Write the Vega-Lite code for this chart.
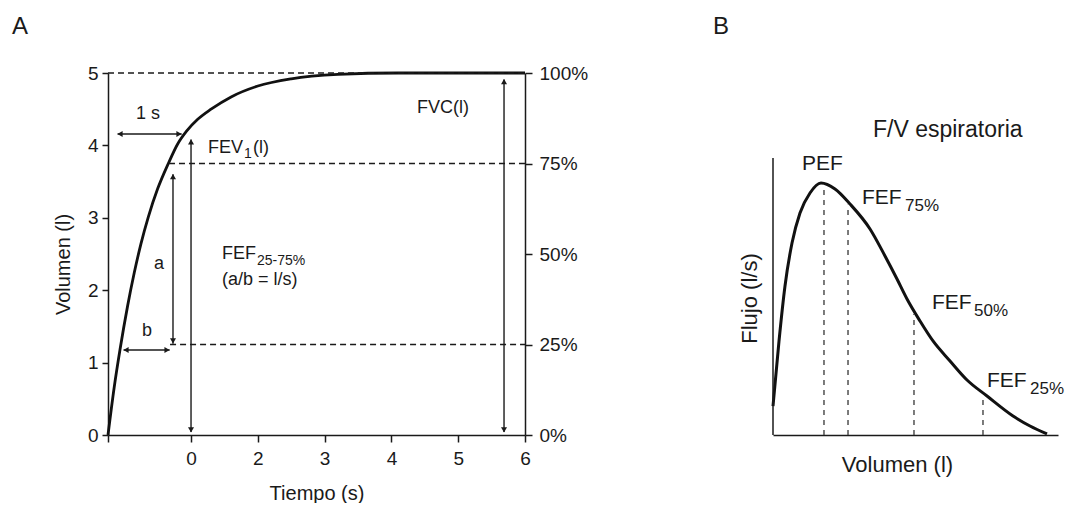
{
  "$schema": "https://vega.github.io/schema/vega-lite/v6.json",
  "background": "white",
  "padding": {"left": 12, "top": 14, "right": 0, "bottom": 0},
  "spacing": 248,
  "bounds": "flush",
  "config": {
    "view": {"stroke": null},
    "font": "Liberation Sans",
    "axis": {
      "grid": false,
      "domainColor": "#1a1a1a",
      "tickColor": "#1a1a1a",
      "labelColor": "#1a1a1a",
      "titleColor": "#1a1a1a",
      "labelFont": "Liberation Sans",
      "titleFont": "Liberation Sans",
      "titleFontWeight": "normal",
      "labelFontSize": 19,
      "titleFontSize": 20,
      "domainWidth": 1.5,
      "tickWidth": 1.5,
      "labelFlush": false,
      "labelOverlap": false
    },
    "text": {"font": "Liberation Sans", "color": "#1a1a1a"}
  },
  "datasets": {
    "volCurve": [
      {"x": -1.243, "y": 0},
      {"x": -1.15, "y": 0.66},
      {"x": -1.063, "y": 1.18},
      {"x": -0.95, "y": 1.78},
      {"x": -0.85, "y": 2.24},
      {"x": -0.75, "y": 2.64},
      {"x": -0.64, "y": 3.01},
      {"x": -0.5, "y": 3.4},
      {"x": -0.34, "y": 3.75},
      {"x": -0.2, "y": 4.02},
      {"x": -0.064, "y": 4.2},
      {"x": 0.1, "y": 4.36},
      {"x": 0.3, "y": 4.5},
      {"x": 0.6, "y": 4.67},
      {"x": 1.0, "y": 4.82},
      {"x": 1.5, "y": 4.92},
      {"x": 2.2, "y": 4.98},
      {"x": 3.1, "y": 5.0},
      {"x": 5.0, "y": 5.0}
    ],
    "volDashed": [
      {"x": -1.243, "x2": 5, "y": 5, "y2": 5},
      {"x": -0.33, "x2": 5, "y": 3.75, "y2": 3.75},
      {"x": -0.314, "x2": 5, "y": 1.25, "y2": 1.25}
    ],
    "volArrows": [
      {"x": -1.1, "x2": -0.14, "y": 4.157, "y2": 4.157},
      {"x": 0, "x2": 0, "y": 0.04, "y2": 4.08},
      {"x": -0.27, "x2": -0.27, "y": 1.26, "y2": 3.6},
      {"x": -1.01, "x2": -0.32, "y": 1.174, "y2": 1.174},
      {"x": 4.686, "x2": 4.686, "y": 0.04, "y2": 4.91}
    ],
    "volHeads": [
      {"x": -1.063, "y": 4.157, "dir": "left"},
      {"x": -0.18, "y": 4.157, "dir": "right"},
      {"x": 0, "y": 4.05, "dir": "up"},
      {"x": 0, "y": 0.07, "dir": "down"},
      {"x": -0.27, "y": 3.57, "dir": "up"},
      {"x": -0.27, "y": 1.3, "dir": "down"},
      {"x": -0.973, "y": 1.174, "dir": "left"},
      {"x": -0.359, "y": 1.174, "dir": "right"},
      {"x": 4.686, "y": 4.88, "dir": "up"},
      {"x": 4.686, "y": 0.07, "dir": "down"}
    ],
    "volText": [
      {"x": -0.823, "y": 4.365, "label": "1 s"},
      {"x": 0.254, "y": 3.895, "label": "FEV"},
      {"x": 0.928, "y": 3.895, "label": "(l)"},
      {"x": 0.464, "y": 2.431, "label": "FEF"},
      {"x": 0.464, "y": 2.072, "label": "(a/b = l/s)"},
      {"x": 3.383, "y": 4.448, "label": "FVC(l)"},
      {"x": -0.554, "y": 2.293, "label": "a"},
      {"x": -0.734, "y": 1.367, "label": "b"}
    ],
    "volSub": [
      {"x": 0.793, "y": 3.826, "label": "1"},
      {"x": 0.988, "y": 2.348, "label": "25-75%"}
    ],
    "volLetter": [{"x": -2.68, "y": 5.539, "label": "A"}],
    "pct": [{"y": 0}, {"y": 5}],
    "flowCurve": [
      {"x": 0, "y": 0.8},
      {"x": 0.211, "y": 2.597},
      {"x": 0.421, "y": 4.116},
      {"x": 0.667, "y": 5.304},
      {"x": 0.947, "y": 6.133},
      {"x": 1.298, "y": 6.685},
      {"x": 1.684, "y": 6.961},
      {"x": 2.175, "y": 6.796},
      {"x": 2.702, "y": 6.381},
      {"x": 3.404, "y": 5.691},
      {"x": 3.93, "y": 4.945},
      {"x": 4.351, "y": 4.309},
      {"x": 4.702, "y": 3.757},
      {"x": 5.158, "y": 3.149},
      {"x": 5.614, "y": 2.597},
      {"x": 6.211, "y": 2.044},
      {"x": 6.807, "y": 1.519},
      {"x": 7.509, "y": 1.077},
      {"x": 8.421, "y": 0.525},
      {"x": 9.018, "y": 0.249},
      {"x": 9.614, "y": 0.028}
    ],
    "flowAxis": [{"x": 0, "y": 0, "y2": 7.65}],
    "flowDashed": [
      {"x": 1.789, "y": 0, "y2": 6.85},
      {"x": 2.632, "y": 0, "y2": 6.36},
      {"x": 4.947, "y": 0, "y2": 3.34},
      {"x": 7.368, "y": 0, "y2": 1.05}
    ],
    "flowText": [
      {"x": 1.018, "y": 7.32, "label": "PEF"},
      {"x": 3.123, "y": 6.381, "label": "FEF"},
      {"x": 5.579, "y": 3.481, "label": "FEF"},
      {"x": 7.509, "y": 1.326, "label": "FEF"}
    ],
    "flowSub": [
      {"x": 4.632, "y": 6.188, "label": "75%"},
      {"x": 7.053, "y": 3.287, "label": "50%"},
      {"x": 9.018, "y": 1.133, "label": "25%"}
    ],
    "flowTitle": [{"x": 3.509, "y": 8.232, "label": "F/V espiratoria"}],
    "flowLetter": [{"x": -2.105, "y": 11.077, "label": "B"}]
  },
  "hconcat": [
    {
      "width": 417,
      "height": 362,
      "resolve": {"scale": {"y": "independent"}},
      "layer": [
        {
          "layer": [
            {
              "data": {"name": "volCurve"},
              "mark": {"type": "line", "color": "#111", "strokeWidth": 2.8, "interpolate": "monotone"},
              "encoding": {
                "x": {"field": "x", "type": "quantitative",
                  "scale": {"domain": [-1.243, 5], "nice": false, "zero": false},
                  "axis": {"values": [-1.243, 0, 1, 2, 3, 4, 5],
                    "labelExpr": "datum.value < -1 ? '' : datum.value == 0 ? '0' : format(datum.value + 1, 'd')",
                    "title": "Tiempo (s)", "tickSize": 7, "labelPadding": 7, "titlePadding": 15}},
                "y": {"field": "y", "type": "quantitative",
                  "scale": {"domain": [0, 5], "nice": false, "zero": false},
                  "axis": {"values": [0, 1, 2, 3, 4, 5], "format": "d", "title": "Volumen (l)", "tickSize": 6,
                    "labelPadding": 4, "titlePadding": 14, "titleY": 191}}
              }
            },
            {
              "data": {"name": "volDashed"},
              "mark": {"type": "rule", "color": "#1a1a1a", "strokeWidth": 1.4, "strokeDash": [6, 4]},
              "encoding": {
                "x": {"field": "x", "type": "quantitative", "scale": {"domain": [-1.243, 5], "nice": false, "zero": false}},
                "x2": {"field": "x2"},
                "y": {"field": "y", "type": "quantitative", "scale": {"domain": [0, 5], "nice": false, "zero": false}},
                "y2": {"field": "y2"}
              }
            },
            {
              "data": {"name": "volArrows"},
              "mark": {"type": "rule", "color": "#1a1a1a", "strokeWidth": 1.4},
              "encoding": {
                "x": {"field": "x", "type": "quantitative", "scale": {"domain": [-1.243, 5], "nice": false, "zero": false}},
                "x2": {"field": "x2"},
                "y": {"field": "y", "type": "quantitative", "scale": {"domain": [0, 5], "nice": false, "zero": false}},
                "y2": {"field": "y2"}
              }
            },
            {
              "data": {"name": "volHeads"},
              "mark": {"type": "point", "filled": true, "color": "#1a1a1a", "size": 36, "opacity": 1},
              "encoding": {
                "x": {"field": "x", "type": "quantitative", "scale": {"domain": [-1.243, 5], "nice": false, "zero": false}},
                "y": {"field": "y", "type": "quantitative", "scale": {"domain": [0, 5], "nice": false, "zero": false}},
                "shape": {"field": "dir", "type": "nominal", "legend": null,
                  "scale": {"domain": ["up", "down", "left", "right"], "range": ["triangle-up", "triangle-down", "triangle-left", "triangle-right"]}}
              }
            },
            {
              "data": {"name": "volText"},
              "mark": {"type": "text", "fontSize": 18, "align": "left", "baseline": "alphabetic"},
              "encoding": {
                "x": {"field": "x", "type": "quantitative", "scale": {"domain": [-1.243, 5], "nice": false, "zero": false}},
                "y": {"field": "y", "type": "quantitative", "scale": {"domain": [0, 5], "nice": false, "zero": false}},
                "text": {"field": "label"}
              }
            },
            {
              "data": {"name": "volSub"},
              "mark": {"type": "text", "fontSize": 14, "align": "left", "baseline": "alphabetic"},
              "encoding": {
                "x": {"field": "x", "type": "quantitative", "scale": {"domain": [-1.243, 5], "nice": false, "zero": false}},
                "y": {"field": "y", "type": "quantitative", "scale": {"domain": [0, 5], "nice": false, "zero": false}},
                "text": {"field": "label"}
              }
            },
            {
              "data": {"name": "volLetter"},
              "mark": {"type": "text", "fontSize": 24, "align": "left", "baseline": "alphabetic"},
              "encoding": {
                "x": {"field": "x", "type": "quantitative", "scale": {"domain": [-1.243, 5], "nice": false, "zero": false}},
                "y": {"field": "y", "type": "quantitative", "scale": {"domain": [0, 5], "nice": false, "zero": false}},
                "text": {"field": "label"}
              }
            }
          ]
        },
        {
          "data": {"name": "pct"},
          "mark": {"type": "point", "opacity": 0},
          "encoding": {
            "x": {"datum": 5, "type": "quantitative", "scale": {"domain": [-1.243, 5], "nice": false, "zero": false}},
            "y": {"field": "y", "type": "quantitative",
              "scale": {"domain": [0, 5], "nice": false, "zero": false},
              "axis": {"orient": "right", "values": [0, 1.25, 2.5, 3.75, 5],
                "labelExpr": "format(datum.value * 20, 'd') + '%'", "title": null,
                "tickSize": 7, "labelPadding": 7}}
          }
        }
      ]
    },
    {
      "width": 285,
      "height": 362,
      "layer": [
        {
          "data": {"name": "flowCurve"},
          "mark": {"type": "line", "color": "#111", "strokeWidth": 3, "interpolate": "monotone"},
          "encoding": {
            "x": {"field": "x", "type": "quantitative",
              "scale": {"domain": [0, 10], "nice": false, "zero": false},
              "axis": {"title": "Volumen (l)", "labels": false, "ticks": false, "domain": true,
                "titleFontSize": 22, "titlePadding": 19, "titleX": 124}},
            "y": {"field": "y", "type": "quantitative",
              "scale": {"domain": [0, 10], "nice": false, "zero": false},
              "axis": {"title": "Flujo (l/s)", "labels": false, "ticks": false, "domain": false,
                "titleFontSize": 22, "titlePadding": 12, "titleY": 225}}
          }
        },
        {
          "data": {"name": "flowAxis"},
          "mark": {"type": "rule", "color": "#1a1a1a", "strokeWidth": 1.5},
          "encoding": {
            "x": {"field": "x", "type": "quantitative", "scale": {"domain": [0, 10], "nice": false, "zero": false}},
            "y": {"field": "y", "type": "quantitative", "scale": {"domain": [0, 10], "nice": false, "zero": false}},
            "y2": {"field": "y2"}
          }
        },
        {
          "data": {"name": "flowDashed"},
          "mark": {"type": "rule", "color": "#444", "strokeWidth": 1.4, "strokeDash": [5, 5]},
          "encoding": {
            "x": {"field": "x", "type": "quantitative", "scale": {"domain": [0, 10], "nice": false, "zero": false}},
            "y": {"field": "y", "type": "quantitative", "scale": {"domain": [0, 10], "nice": false, "zero": false}},
            "y2": {"field": "y2"}
          }
        },
        {
          "data": {"name": "flowText"},
          "mark": {"type": "text", "fontSize": 21, "align": "left", "baseline": "alphabetic"},
          "encoding": {
            "x": {"field": "x", "type": "quantitative", "scale": {"domain": [0, 10], "nice": false, "zero": false}},
            "y": {"field": "y", "type": "quantitative", "scale": {"domain": [0, 10], "nice": false, "zero": false}},
            "text": {"field": "label"}
          }
        },
        {
          "data": {"name": "flowSub"},
          "mark": {"type": "text", "fontSize": 17, "align": "left", "baseline": "alphabetic"},
          "encoding": {
            "x": {"field": "x", "type": "quantitative", "scale": {"domain": [0, 10], "nice": false, "zero": false}},
            "y": {"field": "y", "type": "quantitative", "scale": {"domain": [0, 10], "nice": false, "zero": false}},
            "text": {"field": "label"}
          }
        },
        {
          "data": {"name": "flowTitle"},
          "mark": {"type": "text", "fontSize": 23, "align": "left", "baseline": "alphabetic"},
          "encoding": {
            "x": {"field": "x", "type": "quantitative", "scale": {"domain": [0, 10], "nice": false, "zero": false}},
            "y": {"field": "y", "type": "quantitative", "scale": {"domain": [0, 10], "nice": false, "zero": false}},
            "text": {"field": "label"}
          }
        },
        {
          "data": {"name": "flowLetter"},
          "mark": {"type": "text", "fontSize": 24, "align": "left", "baseline": "alphabetic"},
          "encoding": {
            "x": {"field": "x", "type": "quantitative", "scale": {"domain": [0, 10], "nice": false, "zero": false}},
            "y": {"field": "y", "type": "quantitative", "scale": {"domain": [0, 10], "nice": false, "zero": false}},
            "text": {"field": "label"}
          }
        }
      ]
    }
  ]
}
